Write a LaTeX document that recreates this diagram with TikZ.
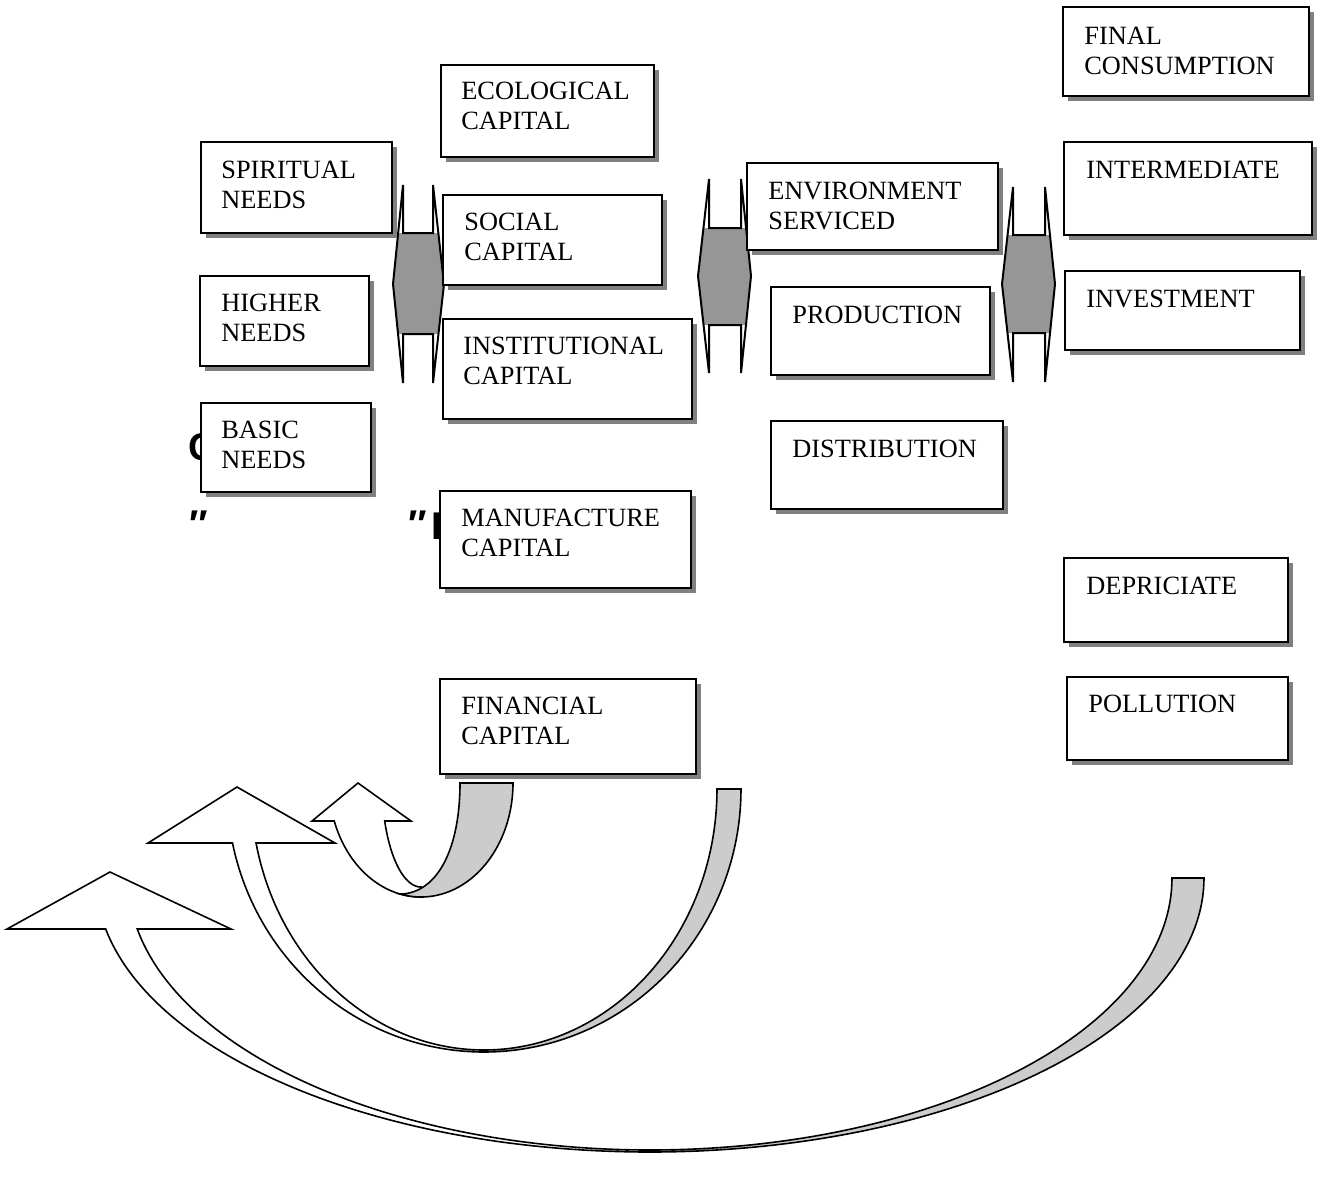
\documentclass[tikz,border=0pt]{standalone}
\usepackage{fontspec}
\setmainfont{Liberation Serif}
\newfontfamily\strayfont{Liberation Sans}
\usetikzlibrary{shadows}
\definecolor{shadowgray}{RGB}{128,128,128}
\definecolor{arrowgray}{RGB}{150,150,150}
\definecolor{bandgray}{RGB}{204,204,204}
\newcommand\twol[2]{\begin{tabular}[t]{@{}l@{}}#1\\#2\end{tabular}}
\begin{document}
\begin{tikzpicture}[x=0.02cm,y=-0.02cm,
  box/.style={draw, line width=0.04cm, fill=white, inner sep=0pt, outer sep=0pt, anchor=north west,
    general shadow={fill=shadowgray, shadow xshift=0.1cm, shadow yshift=-0.1cm}},
  lbl/.style={anchor=base west, inner sep=0pt, font=\fontsize{15pt}{17.6pt}\selectfont},
  stray/.style={anchor=base west, inner sep=0pt, font=\strayfont\bfseries\fontsize{22pt}{26pt}\selectfont},
  udfill/.style={fill=arrowgray},
  udline/.style={draw, line width=0.04cm, line join=miter},
  curvew/.style={draw, fill=white, line width=0.032cm, line join=miter},
  curveg/.style={draw, fill=bandgray, line width=0.032cm, line join=miter}]

\fill[white] (0,0) rectangle (1317,1184);
\useasboundingbox (0,0) rectangle (1317,1184);

% stray partly hidden text
\node[stray] (c1) at (188,460) {C};
\node[stray] (q1) at (189,537) {″};
\node[stray] (q2) at (408,537) {″};
\node[stray] (i1) at (431,539) {I};

% up-down block arrows
\path[udfill] (398.2,233) -- (438.3,233) -- (444,284) -- (438.6,334) -- (398.1,334) -- (393,284) -- cycle;
\path[udline] (403,185) -- (403,233) -- (433,233) -- (433,185) -- (444,284) -- (433,383) -- (433,334) -- (403,334) -- (403,383) -- (393,284) -- cycle;

\path[udfill] (703.4,228) -- (746,228) -- (751,276) -- (746,325) -- (703.6,325) -- (698,276) -- cycle;
\path[udline] (709,179) -- (709,228) -- (741,228) -- (741,179) -- (751,276) -- (741,373) -- (741,325) -- (709,325) -- (709,373) -- (698,276) -- cycle;

\path[udfill] (1007.6,235) -- (1050,235) -- (1055,284) -- (1050,333) -- (1007.5,333) -- (1002,284) -- cycle;
\path[udline] (1013,187) -- (1013,235) -- (1045,235) -- (1045,187) -- (1055,284) -- (1045,382) -- (1045,333) -- (1013,333) -- (1013,382) -- (1002,284) -- cycle;

% boxes
\node[box, minimum width=4.26cm, minimum height=1.84cm] (eco) at (441,65) {};
\node[box, minimum width=4.92cm, minimum height=1.78cm] (final) at (1063,7) {};
\node[box, minimum width=3.82cm, minimum height=1.82cm] (spirit) at (201,142) {};
\node[box, minimum width=4.38cm, minimum height=1.80cm] (social) at (443,195) {};
\node[box, minimum width=5.02cm, minimum height=1.74cm] (env) at (747,163) {};
\node[box, minimum width=4.96cm, minimum height=1.86cm] (inter) at (1064,142) {};
\node[box, minimum width=3.38cm, minimum height=1.80cm] (higher) at (200,276) {};
\node[box, minimum width=4.38cm, minimum height=1.76cm] (prod) at (771,287) {};
\node[box, minimum width=4.70cm, minimum height=1.58cm] (invest) at (1065,271) {};
\node[box, minimum width=4.98cm, minimum height=2.00cm] (inst) at (443,319) {};
\node[box, minimum width=3.40cm, minimum height=1.78cm] (basic) at (201,403) {};
\node[box, minimum width=4.64cm, minimum height=1.76cm] (dist) at (771,421) {};
\node[box, minimum width=5.02cm, minimum height=1.94cm] (manu) at (440,491) {};
\node[box, minimum width=4.48cm, minimum height=1.68cm] (depr) at (1064,558) {};
\node[box, minimum width=4.42cm, minimum height=1.66cm] (poll) at (1067,677) {};
\node[box, minimum width=5.12cm, minimum height=1.90cm] (fin) at (440,679) {};

% labels
\node[lbl] (teco) at (461,99) {\twol{ECOLOGICAL}{CAPITAL}};
\node[lbl] (tfinal) at (1084,44) {\twol{FINAL}{CONSUMPTION}};
\node[lbl] (tspirit) at (221,178) {\twol{SPIRITUAL}{NEEDS}};
\node[lbl] (tsocial) at (464,230) {\twol{SOCIAL}{CAPITAL}};
\node[lbl] (tenv) at (768,199) {\twol{ENVIRONMENT}{SERVICED}};
\node[lbl] (tinter) at (1086,178) {INTERMEDIATE};
\node[lbl] (thigher) at (221,311) {\twol{HIGHER}{NEEDS}};
\node[lbl] (tprod) at (792,323) {PRODUCTION};
\node[lbl] (tinvest) at (1086,307) {INVESTMENT};
\node[lbl] (tinst) at (463,354) {\twol{INSTITUTIONAL}{CAPITAL}};
\node[lbl] (tbasic) at (221,438) {\twol{BASIC}{NEEDS}};
\node[lbl] (tdist) at (792,457) {DISTRIBUTION};
\node[lbl] (tmanu) at (461,526) {\twol{MANUFACTURE}{CAPITAL}};
\node[lbl] (tdepr) at (1086,594) {DEPRICIATE};
\node[lbl] (tpoll) at (1088,712) {POLLUTION};
\node[lbl] (tfin) at (461,714) {\twol{FINANCIAL}{CAPITAL}};

% large curved arrow
\path[curvew] plot[domain=169.27:90, samples=70] ({650+554*cos(\x)},{878+274*sin(\x)})
  -- plot[domain=90:169.19, samples=70] ({650+522*cos(\x)},{878+272*sin(\x)})
  -- (231,929) -- (110,872) -- (7,929) -- cycle;
\path[curveg] (1172,878) -- (1204,878)
  -- plot[domain=0:90, samples=70] ({650+554*cos(\x)},{878+274*sin(\x)})
  -- plot[domain=90:0, samples=70] ({650+522*cos(\x)},{878+272*sin(\x)}) -- cycle;

% medium curved arrow
\path[curvew] plot[domain=168.15:90, samples=60] ({484+257*cos(\x)},{789+263*sin(\x)})
  -- plot[domain=90:168.06, samples=60] ({484+233*cos(\x)},{789+261*sin(\x)})
  -- (335,843) -- (237,787) -- (148,843) -- cycle;
\path[curveg] (717,789) -- (741,789)
  -- plot[domain=0:90, samples=60] ({484+257*cos(\x)},{789+263*sin(\x)})
  -- plot[domain=90:0, samples=60] ({484+233*cos(\x)},{789+261*sin(\x)}) -- cycle;

% small curved arrow
\path[curvew] plot[domain=160.53:90, samples=50] ({421+92*cos(\x)},{783+114*sin(\x)})
  -- plot[domain=90:158.57, samples=50] ({421+39*cos(\x)},{783+104*sin(\x)})
  -- (411,821) -- (358,783) -- (312,821) -- cycle;
\path[curveg] (460,783) -- (513,783)
  -- plot[domain=0:103, samples=50] ({421+92*cos(\x)},{783+114*sin(\x)})
  .. controls (438,893) and (460,848) .. (460,783) -- cycle;

\end{tikzpicture}
\end{document}
